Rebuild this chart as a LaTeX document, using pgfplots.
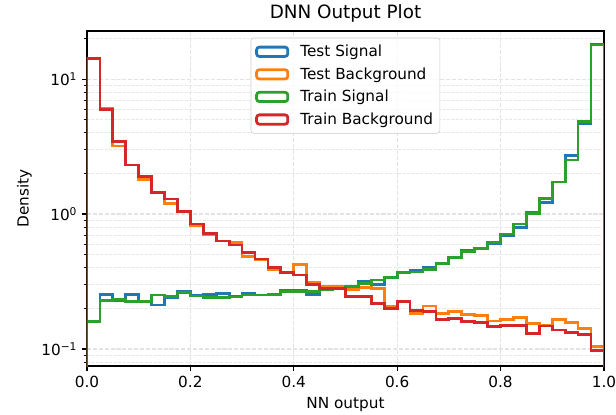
\documentclass[border=0pt]{standalone}
\usepackage{fontspec}
\setmainfont{DejaVu Sans}
\usepackage{pgfplots}
\pgfplotsset{compat=1.18}
\definecolor{tabblue}{HTML}{1F77B4}
\definecolor{taborange}{HTML}{FF7F0E}
\definecolor{tabgreen}{HTML}{2CA02C}
\definecolor{tabred}{HTML}{D62728}
\begin{document}
\begin{tikzpicture}
\begin{axis}[
  width=372.2pt, height=241.2pt, scale only axis,
  ymode=log, xmin=0, xmax=1, ymin=0.0748, ymax=22.7,
  xtick={0,0.2,0.4,0.6,0.8,1},
  xticklabels={0.0,0.2,0.4,0.6,0.8,1.0},
  ytick={0.1,1,10},
  yticklabels={10\textsuperscript{−1},10\textsuperscript{0},10\textsuperscript{1}},
  minor ytick={0.08,0.09,0.2,0.3,0.4,0.5,0.6,0.7,0.8,0.9,2,3,4,5,6,7,8,9,20},
  tick align=outside, tick pos=left,
  major tick length=3.5pt, minor tick length=2pt,
  every tick/.style={black, line width=0.8pt},
  minor tick style={black, line width=0.6pt},
  axis line style={black, line width=0.8pt},
  xmajorgrids, ymajorgrids, yminorgrids,
  major grid style={black!11, line width=0.8pt, dash pattern=on 2.96pt off 1.28pt},
  minor grid style={black!9, line width=0.6pt, dash pattern=on 2.2pt off 1pt},
  ticklabel style={font=\fontsize{11}{13.2}\selectfont},
  label style={font=\fontsize{11}{13.2}\selectfont},
  xlabel={NN output}, ylabel={Density},
  title={DNN Output Plot},
  title style={font=\fontsize{13.2}{15.8}\selectfont, yshift=-3.5pt},
  /pgf/number format/assume math mode=true,
  legend style={at={(0.5,0.98)}, anchor=north, font=\fontsize{11}{13.2}\selectfont,
    draw=black!20, rounded corners=2pt, fill=white, fill opacity=0.8, text opacity=1,
    row sep=2.4pt, column sep=6pt, inner xsep=3pt, inner ysep=3pt},
  legend cell align=left,
  legend image code/.code={\draw[#1, fill=none, line width=2pt] (0pt,-3.35pt) rectangle (22.5pt,3.35pt);},
  every axis plot/.append style={const plot, line width=2pt, line join=miter},
]
\addplot[tabblue] coordinates {
(0,0.001) (0,0.159) (0.025,0.255) (0.05,0.230) (0.075,0.255) (0.1,0.224) (0.125,0.212)
(0.15,0.241) (0.175,0.265) (0.2,0.250) (0.225,0.255) (0.25,0.258) (0.275,0.245)
(0.3,0.260) (0.325,0.251) (0.35,0.251) (0.375,0.274) (0.4,0.272) (0.425,0.255)
(0.45,0.274) (0.475,0.278) (0.5,0.291) (0.525,0.315) (0.55,0.300) (0.575,0.340)
(0.6,0.367) (0.625,0.385) (0.65,0.400) (0.675,0.431) (0.7,0.478) (0.725,0.535)
(0.75,0.560) (0.775,0.605) (0.8,0.695) (0.825,0.797) (0.85,1.02) (0.875,1.21)
(0.9,1.73) (0.925,2.70) (0.95,4.70) (0.975,18.1) (1,18.1) (1,0.001)};
\addlegendentry{Test Signal}
\addplot[taborange] coordinates {
(0,0.001) (0,14.2) (0.025,6.05) (0.05,3.19) (0.075,2.31) (0.1,1.81) (0.125,1.44)
(0.15,1.20) (0.175,1.04) (0.2,0.815) (0.225,0.70) (0.25,0.63) (0.275,0.613)
(0.3,0.483) (0.325,0.461) (0.35,0.385) (0.375,0.367) (0.4,0.425) (0.425,0.31)
(0.45,0.29) (0.475,0.293) (0.5,0.277) (0.525,0.286) (0.55,0.282) (0.575,0.208)
(0.6,0.224) (0.625,0.184) (0.65,0.208) (0.675,0.184) (0.7,0.190) (0.725,0.179)
(0.75,0.178) (0.775,0.161) (0.8,0.165) (0.825,0.172) (0.85,0.155) (0.875,0.150)
(0.9,0.165) (0.925,0.157) (0.95,0.142) (0.975,0.104) (1,0.104) (1,0.001)};
\addlegendentry{Test Background}
\addplot[tabgreen] coordinates {
(0,0.001) (0,0.159) (0.025,0.228) (0.05,0.232) (0.075,0.224) (0.1,0.224) (0.125,0.251)
(0.15,0.245) (0.175,0.261) (0.2,0.247) (0.225,0.241) (0.25,0.241) (0.275,0.243)
(0.3,0.251) (0.325,0.251) (0.35,0.255) (0.375,0.266) (0.4,0.266) (0.425,0.266)
(0.45,0.274) (0.475,0.281) (0.5,0.289) (0.525,0.307) (0.55,0.324) (0.575,0.340)
(0.6,0.367) (0.625,0.372) (0.65,0.389) (0.675,0.431) (0.7,0.478) (0.725,0.526)
(0.75,0.557) (0.775,0.617) (0.8,0.711) (0.825,0.843) (0.85,1.01) (0.875,1.31)
(0.9,1.73) (0.925,2.51) (0.95,4.83) (0.975,17.9) (1,17.9) (1,0.001)};
\addlegendentry{Train Signal}
\addplot[tabred] coordinates {
(0,0.001) (0,14.2) (0.025,5.96) (0.05,3.43) (0.075,2.31) (0.1,1.89) (0.125,1.44)
(0.15,1.29) (0.175,1.04) (0.2,0.843) (0.225,0.72) (0.25,0.63) (0.275,0.589)
(0.3,0.517) (0.325,0.465) (0.35,0.400) (0.375,0.370) (0.4,0.353) (0.425,0.300)
(0.45,0.281) (0.475,0.281) (0.5,0.244) (0.525,0.244) (0.55,0.216) (0.575,0.200)
(0.6,0.224) (0.625,0.194) (0.65,0.189) (0.675,0.166) (0.7,0.168) (0.725,0.160)
(0.75,0.157) (0.775,0.146) (0.8,0.150) (0.825,0.150) (0.85,0.131) (0.875,0.148)
(0.9,0.138) (0.925,0.133) (0.95,0.128) (0.975,0.097) (1,0.097) (1,0.001)};
\addlegendentry{Train Background}
\end{axis}
\pgfresetboundingbox
\useasboundingbox (-62.64pt,-34.56pt) rectangle (380.88pt,263.52pt);
\end{tikzpicture}
\end{document}
